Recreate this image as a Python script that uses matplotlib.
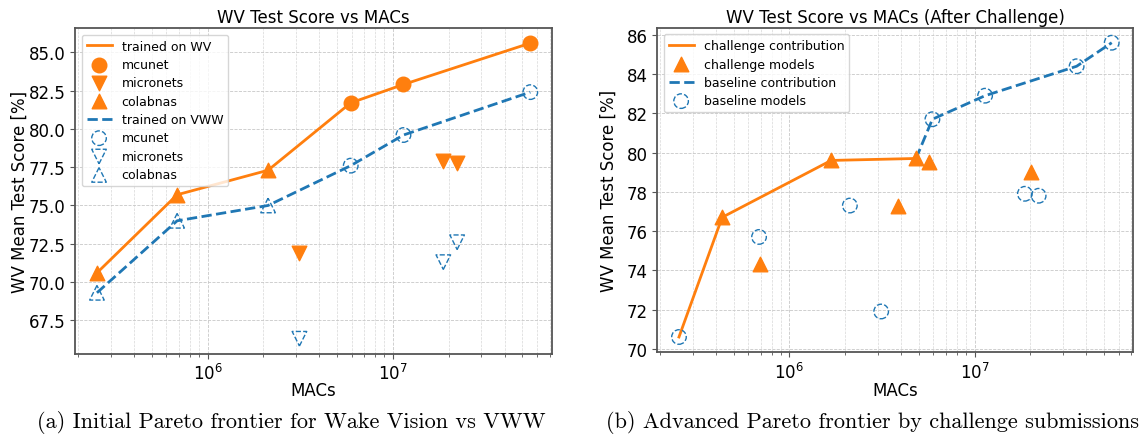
import matplotlib
matplotlib.use("Agg")
import matplotlib.pyplot as plt

# ---------------- data (left: trained on WV vs trained on VWW) ----------------
mcunet_macs = [5.92e6, 1.14e7, 5.51e7]
micronets_macs = [3.13e6, 1.87e7, 2.22e7]
colabnas_macs = [2.53e5, 6.85e5, 2.12e6]

wv_mcunet = [81.7, 82.9, 85.6]
wv_micronets = [71.9, 77.9, 77.8]
wv_colabnas = [70.6, 75.7, 77.3]

vww_mcunet = [77.6, 79.6, 82.4]
vww_micronets = [66.3, 71.3, 72.6]
vww_colabnas = [69.3, 74.0, 75.0]

wv_front_macs = [2.53e5, 6.85e5, 2.12e6, 5.92e6, 1.14e7, 5.51e7]
wv_front_score = [70.6, 75.7, 77.3, 81.7, 82.9, 85.6]
vww_front_macs = [2.53e5, 6.85e5, 2.12e6, 5.92e6, 1.14e7, 5.51e7]
vww_front_score = [69.3, 74.0, 75.0, 77.6, 79.6, 82.4]

# ---------------- data (right: after challenge) ----------------
challenge_macs = [4.33e5, 6.9e5, 1.68e6, 3.85e6, 4.83e6, 5.66e6, 2.01e7]
challenge_score = [76.7, 74.3, 79.6, 77.3, 79.7, 79.5, 79.0]

baseline_macs = [2.53e5, 6.85e5, 2.12e6, 3.13e6, 5.92e6, 1.14e7, 1.87e7, 2.22e7, 3.56e7, 5.51e7]
baseline_score = [70.6, 75.7, 77.3, 71.9, 81.7, 82.9, 77.9, 77.8, 84.4, 85.6]

challenge_front_macs = [2.53e5, 4.33e5, 1.68e6, 4.83e6]
challenge_front_score = [70.6, 76.7, 79.6, 79.7]
baseline_front_macs = [4.83e6, 5.92e6, 1.14e7, 3.56e7, 5.51e7]
baseline_front_score = [79.7, 81.7, 82.9, 84.4, 85.6]

titles = ["WV Test Score vs MACs", "WV Test Score vs MACs (After Challenge)"]
captions = ["(a) Initial Pareto frontier for Wake Vision vs VWW",
            "(b) Advanced Pareto frontier by challenge submissions"]

ORANGE = "#ff7f0e"
BLUE = "#1f77b4"
MS = 110

fig = plt.figure(figsize=(11.44, 4.35), dpi=100)
axL = fig.add_axes([0.0658, 0.185, 0.4167, 0.7476])
axR = fig.add_axes([0.5746, 0.1892, 0.4161, 0.7441])


def style(ax, ylab_x, xlab_y):
    ax.set_xscale("log")
    ax.grid(True, which="major", ls="--", lw=0.6, color="#c8c8c8")
    ax.grid(True, which="minor", ls="--", lw=0.5, color="#d8d8d8")
    ax.set_axisbelow(True)
    for s in ax.spines.values():
        s.set_color("#555555")
        s.set_linewidth(1.3)
    ax.tick_params(axis="both", which="major", labelsize=12, color="#555555")
    ax.tick_params(axis="both", which="minor", color="#555555")
    ax.set_xlabel("MACs", fontsize=12)
    ax.set_ylabel("WV Mean Test Score [%]", fontsize=12)
    ax.yaxis.set_label_coords(ylab_x, 0.5)
    ax.xaxis.set_label_coords(0.5, xlab_y)


# ---- left ----
axL.plot(wv_front_macs, wv_front_score, color=ORANGE, lw=2, label="trained on WV", zorder=2)
axL.scatter(mcunet_macs, wv_mcunet, s=MS, marker="o", color=ORANGE, label="mcunet", zorder=3)
axL.scatter(micronets_macs, wv_micronets, s=MS, marker="v", color=ORANGE, label="micronets", zorder=3)
axL.scatter(colabnas_macs, wv_colabnas, s=MS, marker="^", color=ORANGE, label="colabnas", zorder=3)
axL.plot(vww_front_macs, vww_front_score, color=BLUE, lw=2, ls="--", label="trained on VWW", zorder=2)
axL.scatter(mcunet_macs, vww_mcunet, s=MS, marker="o", facecolors="none", edgecolors=BLUE,
            linestyles="--", linewidths=1, label="mcunet", zorder=3)
axL.scatter(micronets_macs, vww_micronets, s=MS, marker="v", facecolors="none", edgecolors=BLUE,
            linestyles="--", linewidths=1, label="micronets", zorder=3)
axL.scatter(colabnas_macs, vww_colabnas, s=MS, marker="^", facecolors="none", edgecolors=BLUE,
            linestyles="--", linewidths=1, label="colabnas", zorder=3)
style(axL, -0.098, -0.085)
axL.set_title(titles[0], fontsize=12, pad=4.5)
axL.legend(loc="upper left", fontsize=9, labelspacing=0.43)

# ---- right ----
axR.plot(challenge_front_macs, challenge_front_score, color=ORANGE, lw=2,
         label="challenge contribution", zorder=2)
axR.scatter(challenge_macs, challenge_score, s=MS, marker="^", color=ORANGE,
            label="challenge models", zorder=3)
axR.plot(baseline_front_macs, baseline_front_score, color=BLUE, lw=2, ls="--",
         label="baseline contribution", zorder=2)
axR.scatter(baseline_macs, baseline_score, s=MS, marker="o", facecolors="none", edgecolors=BLUE,
            linestyles="--", linewidths=1, label="baseline models", zorder=3)
style(axR, -0.083, -0.091)
axR.set_title(titles[1], fontsize=12, pad=4.5)
axR.legend(loc="upper left", fontsize=9, labelspacing=0.43)

fig.text(0.2545, 0.029, captions[0], ha="center", va="center", fontsize=16,
         family=["cmr10", "DejaVu Serif"])
fig.text(0.7625, 0.029, captions[1], ha="center", va="center", fontsize=16,
         family=["cmr10", "DejaVu Serif"])

fig.savefig("out.png", dpi=100)
